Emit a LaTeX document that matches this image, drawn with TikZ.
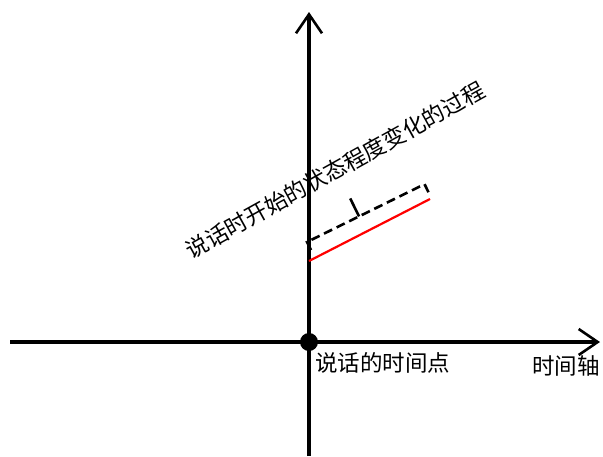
\documentclass[tikz,border=0pt]{standalone}
\usepackage{fontspec}
\setmainfont{Noto Sans CJK SC}
\usetikzlibrary{arrows.meta}
\tikzset{
  axis/.style={line width=3.1pt, -{Straight Barb[length=19pt,width=26pt,line width=2.6pt]}},
  lbl/.style={font=\fontsize{22.5}{25}\selectfont, inner sep=0pt},
  brace/.style={line width=2.6pt, dash pattern=on 9pt off 5pt},
}
\begin{document}
\begin{tikzpicture}[x=1pt,y=-1pt]
\useasboundingbox (0,0) rectangle (603,456);
\coordinate (xs) at (10,342);
\coordinate (xe) at (600,342);
\coordinate (ys) at (309,456);
\coordinate (ye) at (309,12);
\draw[axis] (xs) -- (xe);
\draw[axis] (ys) -- (ye);
\node[circle, fill=black, minimum size=18pt, inner sep=0pt] (o) at (309,342) {};
\coordinate (r1) at (309,261);
\coordinate (r2) at (430,199);
\draw[red, line width=2.2pt] (r1) -- (r2);
\begin{scope}[shift={(307,242)}, rotate=26.2]
  \coordinate (b0) at (0,9);
  \coordinate (b1) at (0,0);
  \coordinate (bm) at (58,0);
  \coordinate (bt) at (58,-20);
  \coordinate (b2) at (131,0);
  \coordinate (b3) at (131,9);
  \draw[brace] (b0) -- (b1) -- (b2) -- (b3);
  \draw[line width=2.6pt] (bm) -- (bt);
\end{scope}
\node[lbl, rotate=29] (t1) at (335,170) {说话时开始的状态程度变化的过程};
\node[lbl, anchor=west] (t2) at (315,363) {说话的时间点};
\node[lbl, anchor=west] (t3) at (532,366) {时间轴};
\end{tikzpicture}
\end{document}
